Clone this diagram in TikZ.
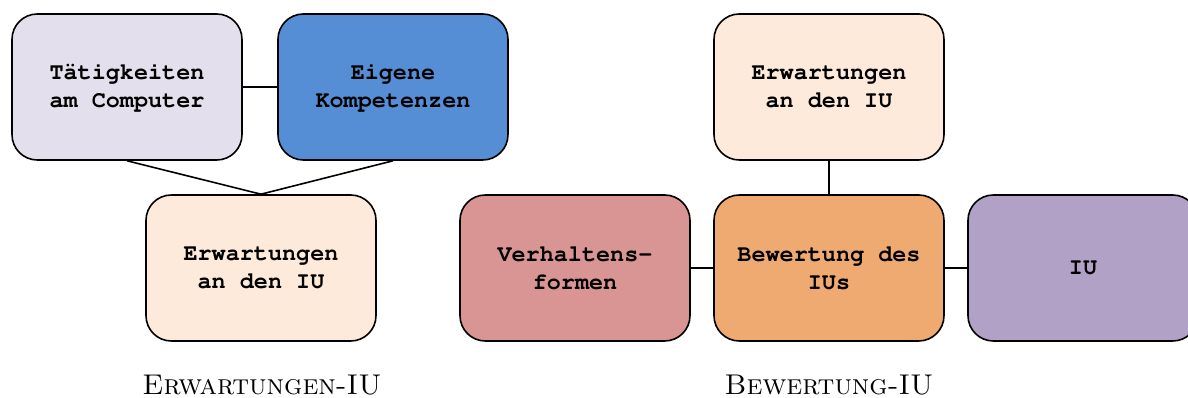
\documentclass[tikz,border=0pt]{standalone}
\usepackage{fontspec}
\definecolor{lila}{HTML}{E4DFEC}
\definecolor{blau}{HTML}{558ED5}
\definecolor{creme}{HTML}{FDEADA}
\definecolor{rosa}{HTML}{D99594}
\definecolor{orange}{HTML}{EFAA71}
\definecolor{violett}{HTML}{B2A1C7}

\tikzset{
  feld/.style={
    draw=black, line width=0.6pt, rounded corners=9.5pt,
    minimum width=86.25pt, minimum height=54.75pt, inner sep=0pt,
    align=center,
    font=\fontencoding{T1}\fontfamily{pcr}\bfseries\fontsize{8.8}{10.5}\selectfont
  },
  titel/.style={font=\fontsize{10.7}{13}\selectfont}
}

\begin{document}
\begin{tikzpicture}[x=0.375pt, y=-0.375pt, line width=0.6pt]
  \useasboundingbox (0,0) rectangle (1188,398);
  % Erwartungen-IU
  \node [feld, fill=lila] (taet) at (127,87) {Tätigkeiten\\am Computer};
  \node [feld, fill=blau] (komp) at (393,87) {Eigene\\Kompetenzen};
  \node [feld, fill=creme] (erwA) at (261,268) {Erwartungen\\an den IU};
  \draw (taet) -- (komp);
  \draw (taet.south) -- (erwA.north);
  \draw (komp.south) -- (erwA.north);
  \node [titel] (titelA) at (262,385) {\textsc{Erwartungen-IU}};

  % Bewertung-IU
  \node [feld, fill=creme] (erwB) at (829,87) {Erwartungen\\an den IU};
  \node [feld, fill=rosa] (verh) at (575,268) {Verhaltens-\\formen};
  \node [feld, fill=orange] (bew) at (829,268) {Bewertung des\\IUs};
  \node [feld, fill=violett] (iu) at (1083,268) {IU};
  \draw (erwB) -- (bew);
  \draw (verh) -- (bew);
  \draw (bew) -- (iu);
  \node [titel] (titelB) at (829,385) {\textsc{Bewertung-IU}};
\end{tikzpicture}
\end{document}
